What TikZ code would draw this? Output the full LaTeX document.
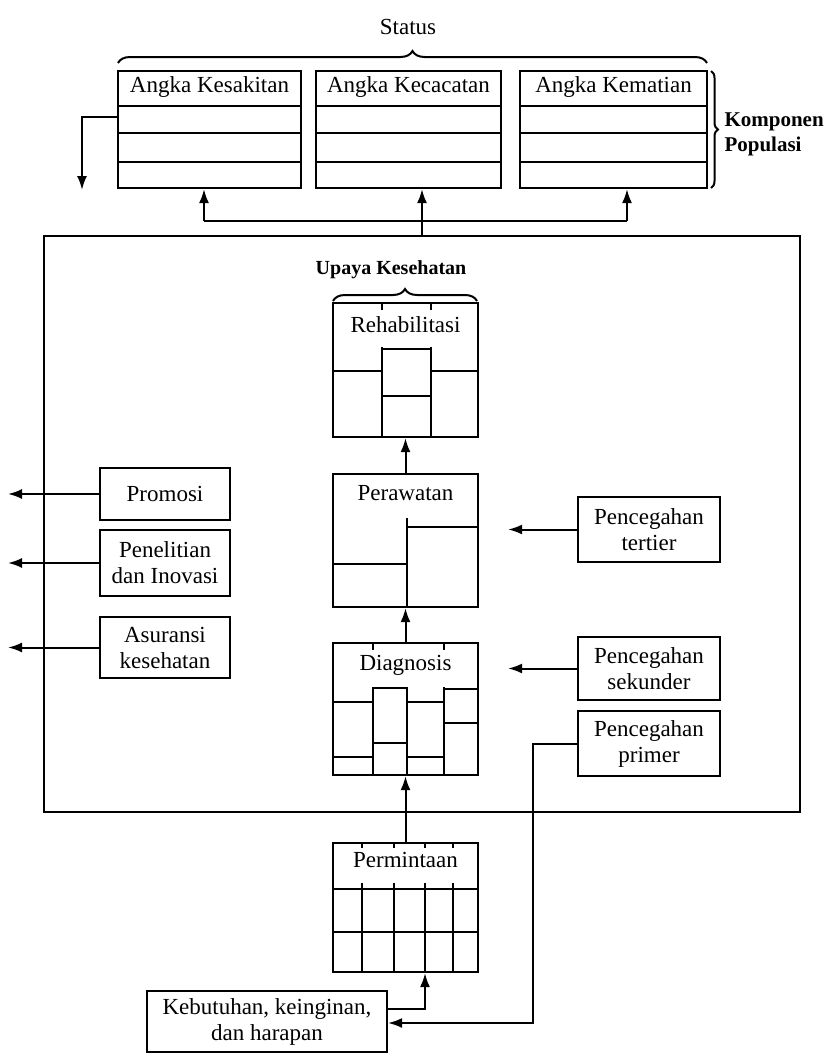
\documentclass[tikz,border=0pt]{standalone}
\usepackage{fontspec}
\setmainfont{Liberation Serif}
\usetikzlibrary{arrows.meta,positioning,decorations.pathreplacing}
\tikzset{
    kotak/.style={draw,line width=2.2pt,inner sep=2pt,align=center},
    judul/.style={inner sep=0pt},
    garis/.style={line width=2pt},
    panah/.style={-{Latex[length=14pt,width=10pt]},line width=2pt},
    kurung/.style args={#1}{decorate,decoration={brace,amplitude=#1},line width=2pt}
}
\begin{document}
\begin{tikzpicture}[x=1pt,y=-1pt,font=\fontsize{23}{26}\selectfont]
\useasboundingbox[fill=white] (0,0) rectangle (836,1055);

% ========= Status =========
\node (status) at (408,27) {Status};
\draw[kurung=12pt] (118,63) -- (707,63);

\node[kotak,minimum width=183,minimum height=117] (sakit) at (209.5,129.5) {};
\node[kotak,minimum width=185,minimum height=117] (cacat) at (408.5,129.5) {};
\node[kotak,minimum width=187,minimum height=117] (mati) at (613.5,129.5) {};
\node[judul,below=6pt of sakit.north] (sakit-t) {Angka Kesakitan};
\node[judul,below=6pt of cacat.north] (cacat-t) {Angka Kecacatan};
\node[judul,below=6pt of mati.north] (mati-t) {Angka Kematian};
\foreach \a/\b in {118/301,316/501,520/707}
    \foreach \y in {106,133,162}
        \draw[garis] (\a,\y) -- (\b,\y);

\draw[kurung=7pt] (711,71) -- (711,188);
\node[anchor=west,align=left,font=\fontsize{21}{25}\selectfont\bfseries] (komponen) at (721,134) {Komponen\\Populasi};

% == keluar dari status ==%
\coordinate (turun) at (82,190);
\draw[panah] (sakit.west |- 0,117) -| (turun);

% ========= Upaya Kesehatan =========
\node[kotak,minimum width=756,minimum height=576] (sistem) at (422,524) {};
\node[font=\fontsize{20}{24}\selectfont\bfseries] (upaya) at (391,270) {Upaya Kesehatan};
\draw[kurung=12pt] (333,301) -- (477,301);

% == REHABILITASI ==%
\node[kotak,minimum width=145,minimum height=134] (rehab) at (405.5,370) {};
\node[judul,below=14pt of rehab.north] (rehab-t) {Rehabilitasi};
\draw[garis] (382,347) -- (382,437) (431,347) -- (431,437)
    (382,349) -- (431,349) (382,396) -- (431,396)
    (333,371) -- (382,371) (431,371) -- (478,371)
    (382,303) -- (382,310) (431,303) -- (431,310);

% == PERAWATAN ==%
\node[kotak,minimum width=145,minimum height=133] (perawatan) at (405.5,540.5) {};
\node[judul,below=12pt of perawatan.north] (perawatan-t) {Perawatan};
\draw[garis] (407,518) -- (407,607) (407,527) -- (478,527) (333,564) -- (407,564);

% == DIAGNOSIS ==%
\node[kotak,minimum width=145,minimum height=132] (diagnosis) at (405.5,709) {};
\node[judul,below=13pt of diagnosis.north] (diagnosis-t) {Diagnosis};
\foreach \x in {373,407,444}
    \draw[garis] (\x,687) -- (\x,775);
\draw[garis] (373,643) -- (373,650) (444,643) -- (444,650);
\foreach \a/\b/\p/\q in {333/373/702/757,373/407/688/743,407/444/702/757,444/478/689/723}
    \draw[garis] (\a,\p) -- (\b,\p) (\a,\q) -- (\b,\q);

% == PERMINTAAN ==%
\node[kotak,minimum width=145,minimum height=129] (permintaan) at (405.5,907.5) {};
\node[judul,below=10pt of permintaan.north] (permintaan-t) {Permintaan};
\foreach \x in {362,394,425,453}
    \draw[garis] (\x,843) -- (\x,848) (\x,883) -- (\x,972);
\draw[garis] (333,889) -- (478,889) (333,932) -- (478,932);

\node[kotak,minimum width=240,minimum height=61] (kebutuhan) at (267,1021.5) {Kebutuhan, keinginan,\\dan harapan};

% ========= Fungsi pendukung =========
\node[kotak,minimum width=130,minimum height=52] (promosi) at (165,494) {Promosi};
\node[kotak,minimum width=130,minimum height=66] (penelitian) at (165,563) {Penelitian\\dan Inovasi};
\node[kotak,minimum width=130,minimum height=61] (asuransi) at (165,647.5) {Asuransi\\kesehatan};

% ========= Pencegahan =========
\node[kotak,minimum width=142,minimum height=65] (tertier) at (649,529.5) {Pencegahan\\tertier};
\node[kotak,minimum width=142,minimum height=63] (sekunder) at (649,668.5) {Pencegahan\\sekunder};
\node[kotak,minimum width=142,minimum height=65] (primer) at (649,743.5) {Pencegahan\\primer};

% ========= Panah =========
\draw[panah] (sistem.north) -- (sistem.north |- cacat.south);
\coordinate (cabangL) at (204,221);
\coordinate (cabangR) at (627,221);
\draw[garis] (cabangL) -- (cabangR);
\draw[panah] (cabangL) -- (cabangL |- sakit.south);
\draw[panah] (cabangR) -- (cabangR |- mati.south);

\draw[panah] (perawatan.north) -- (rehab.south);
\draw[panah] (diagnosis.north) -- (perawatan.south);
\draw[panah] (permintaan.north) -- (diagnosis.south);

\draw[panah,shorten >=29pt] (tertier.west) -- (tertier.west -| perawatan.east);
\draw[panah,shorten >=29pt] (sekunder.west) -- (sekunder.west -| diagnosis.east);
\coordinate (belok) at (533,1023);
\draw[panah] (primer.west) -| (belok) -- (belok -| kebutuhan.east);
\coordinate (naik) at (425,1009);
\draw[panah] (kebutuhan.east |- naik) -- (naik) -- (naik |- permintaan.south);

\foreach \n in {promosi,penelitian,asuransi}
    \draw[panah] (\n.west) -- (\n.west -| 8,0);

\end{tikzpicture}
\end{document}
